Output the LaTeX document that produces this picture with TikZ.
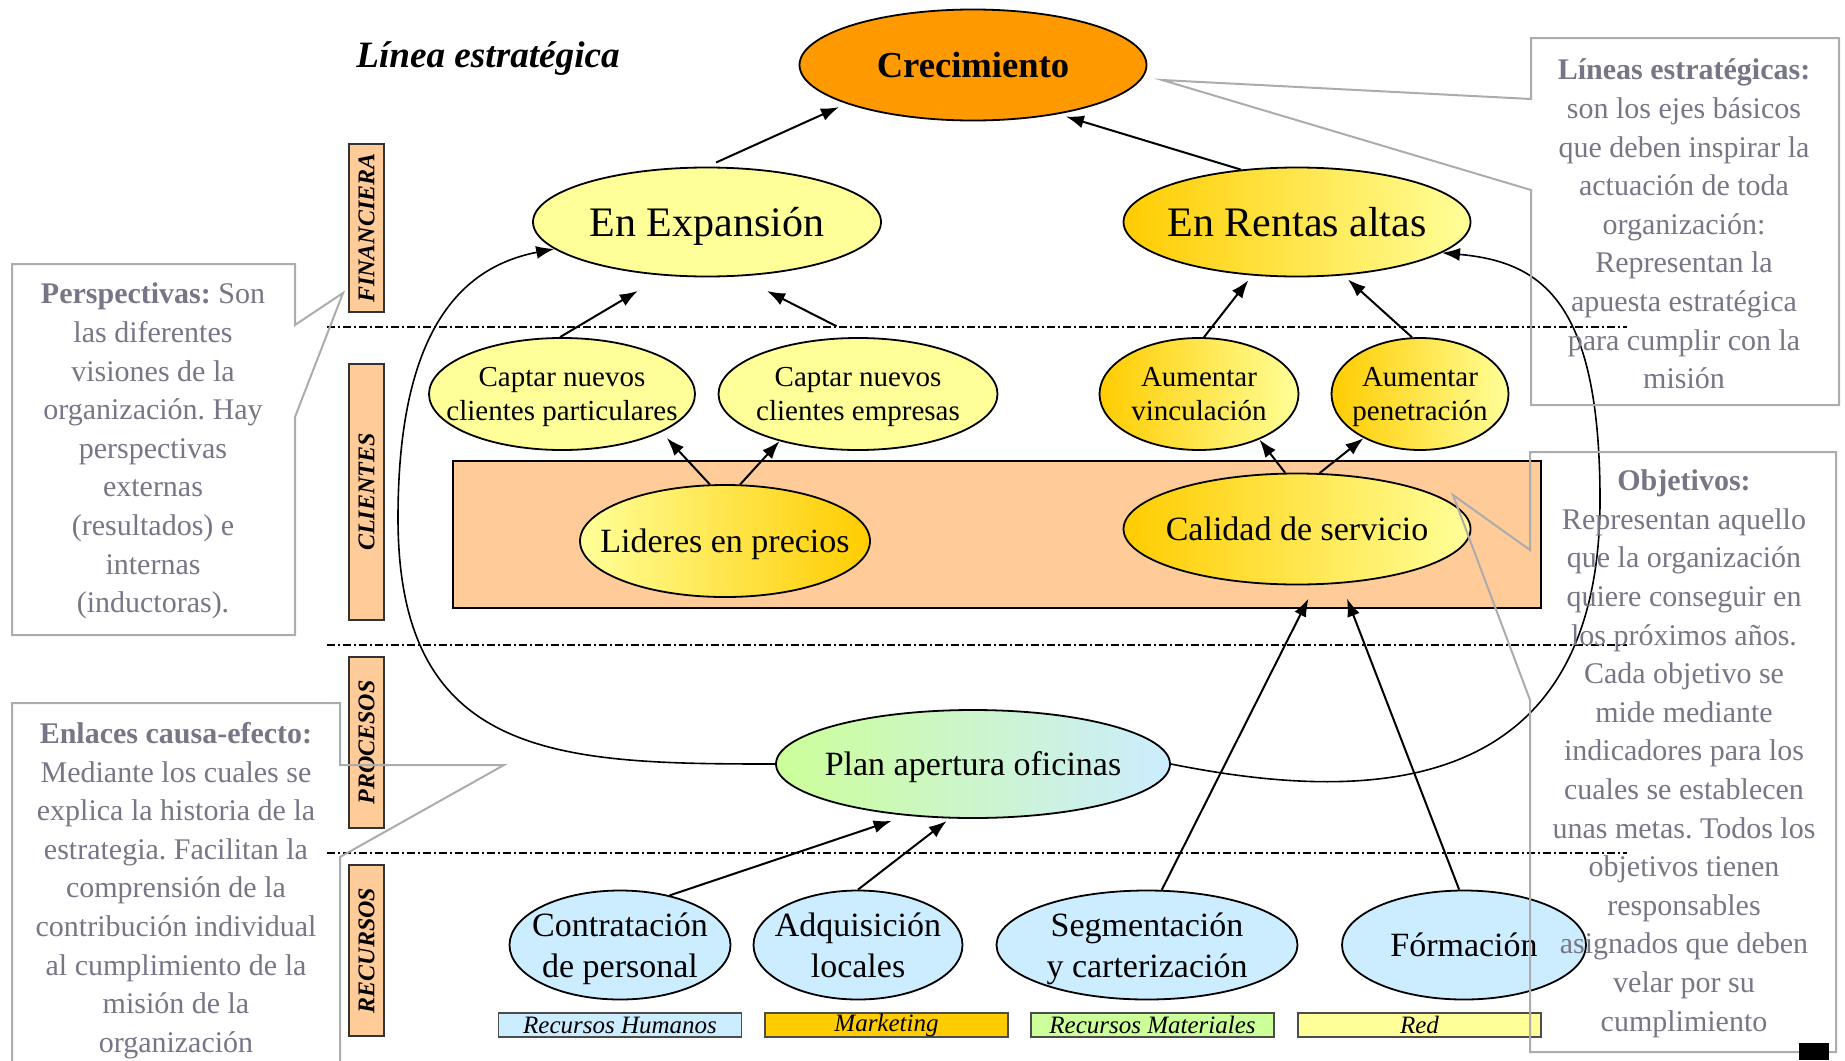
\documentclass[tikz,border=0pt]{standalone}
\usepackage{fontspec}
\setmainfont{Liberation Serif}
\usepackage{tikz}
\usetikzlibrary{shapes.geometric,arrows.meta}
\frenchspacing

\definecolor{naranja}{RGB}{255,153,0}
\definecolor{oro}{RGB}{255,204,0}
\definecolor{amarillo}{RGB}{255,255,153}
\definecolor{melocoton}{RGB}{255,204,153}
\definecolor{celeste}{RGB}{204,236,255}
\definecolor{verdeclaro}{RGB}{204,255,153}
\definecolor{notagris}{RGB}{118,118,134}
\definecolor{bordegris}{RGB}{172,172,172}

\begin{document}
\begin{tikzpicture}[x=0.5pt,y=-0.5pt,
  oval/.style={ellipse,draw,line width=0.9pt,inner xsep=-80pt,inner ysep=-40pt,align=center,text depth=0pt},
  grande/.style={font=\fontsize{21}{25}\selectfont},
  mediana/.style={font=\fontsize{17}{20.5}\selectfont},
  chica/.style={font=\fontsize{14.5}{17}\selectfont},
  flecha/.style={line width=1pt,-{Latex[length=9pt,width=6.5pt]}},
  curva/.style={line width=0.8pt,-{Latex[length=9pt,width=6.5pt]}},
  franja/.style={draw=black!80,line width=0.9pt,fill=melocoton,rotate=90,minimum height=17.5pt,inner sep=0pt,font=\fontsize{12}{12}\selectfont\bfseries\itshape},
  area/.style={draw=black!70,line width=0.8pt,minimum width=121.5pt,minimum height=12pt,inner sep=0pt,font=\fontsize{12.5}{12.5}\selectfont\itshape},
  nota/.style={draw=bordegris,line width=1pt},
  notatxt/.style={align=center,text=notagris,font=\fontsize{15}{19.3}\selectfont},
  separa/.style={line width=0.7pt,dash pattern=on 4pt off 1.5pt on 1pt off 1.5pt}]
\useasboundingbox (0,0) rectangle (1845,1060);
\clip (0,0) rectangle (1845,1060);

% perspectivas
\node[franja,minimum width=84pt] (finan) at (366.5,228) {FINANCIERA};
\node[franja,minimum width=128pt] (clien) at (366.5,492) {CLIENTES};
\node[franja,minimum width=85.5pt] (proc) at (366.5,742.5) {PROCESOS};
\node[franja,minimum width=85.5pt] (recu) at (366.5,950.5) {RECURSOS};
\draw[separa] (327,327) -- (1627,327);
\draw[separa] (327,645) -- (1627,645);
\draw[separa] (327,853) -- (1627,853);

\node[font=\fontsize{18.6}{22}\selectfont\bfseries\itshape] (linea) at (488,59) {Línea estratégica};

% objetivos
\node[oval,fill=naranja,minimum width=173.5pt,minimum height=55.5pt,font=\fontsize{18.3}{22}\selectfont\bfseries] (crec) at (973,65) {Crecimiento};
\node[oval,grande,fill=amarillo,minimum width=174pt,minimum height=54.5pt] (exp) at (707,222) {En Expansión};
\node[oval,grande,left color=oro,right color=amarillo,minimum width=173.5pt,minimum height=54.5pt] (rent) at (1297,222) {En Rentas altas};
\node[oval,chica,fill=amarillo,minimum width=133pt,minimum height=56pt] (cpart) at (562,394) {Captar nuevos\\clientes particulares};
\node[oval,chica,fill=amarillo,minimum width=139.5pt,minimum height=56pt] (cemp) at (858,394) {Captar nuevos\\clientes empresas};
\node[oval,chica,left color=oro,right color=amarillo,minimum width=99.5pt,minimum height=56pt] (vinc) at (1199,394) {Aumentar\\vinculación};
\node[oval,chica,left color=oro,right color=amarillo,minimum width=88.5pt,minimum height=56pt] (pen) at (1420,394) {Aumentar\\penetración};
\node[draw,line width=1pt,fill=melocoton,minimum width=544pt,minimum height=73.5pt,inner sep=0pt] (zona) at (997,534.5) {};
\node[oval,mediana,left color=amarillo,right color=oro,minimum width=145pt,minimum height=56pt] (lid) at (725,541) {Lideres en precios};
\node[oval,mediana,left color=oro,right color=amarillo,minimum width=173.5pt,minimum height=55.5pt] (cal) at (1297,529) {Calidad de servicio};
\node[oval,mediana,left color=verdeclaro,right color=celeste,minimum width=197pt,minimum height=54pt] (plan) at (973,764) {Plan apertura oficinas};
\node[oval,mediana,fill=celeste,minimum width=110.5pt,minimum height=54.5pt] (contr) at (620,945) {Contratación\\de personal};
\node[oval,mediana,fill=celeste,minimum width=104.5pt,minimum height=54.5pt] (adq) at (858,945) {Adquisición\\locales};
\node[oval,mediana,fill=celeste,minimum width=150.5pt,minimum height=54.5pt] (seg) at (1147,945) {Segmentación\\y carterización};
\node[oval,mediana,fill=celeste,minimum width=122pt,minimum height=54.5pt] (form) at (1464,945) {Fórmación};

% areas
\node[area,fill=celeste] (rrhh) at (620,1025) {Recursos Humanos};
\node[area,fill=oro] (mark) at (886.5,1025) {Marketing};
\node[area,fill=verdeclaro] (rmat) at (1152.5,1025) {Recursos Materiales};
\node[area,fill=amarillo] (red) at (1419.5,1025) {Red};

% enlaces causa-efecto
\draw[flecha,shorten <=5pt,shorten >=4pt] (exp.north) -- (crec.197);
\draw[flecha,shorten >=4pt] (rent.137) -- (crec.-30);
\draw[flecha,shorten >=15pt] (cpart.92) -- (exp.231);
\draw[flecha,shorten <=12pt,shorten >=16pt] (cemp.north) -- (exp.-60);
\draw[flecha,shorten >=3pt] (vinc.85) -- (rent.230);
\draw[flecha,shorten >=3pt] (pen.98) -- (rent.-49);
\draw[flecha,shorten >=4pt] (lid.105) -- (cpart.-21);
\draw[flecha] (lid.75) -- (cemp.211);
\draw[flecha] (cal.102) -- (vinc.-37);
\draw[flecha] (cal.68) -- (pen.218);
\draw[flecha,shorten >=8pt] (contr.45) -- (plan.218);
\draw[flecha,shorten >=2pt] (adq.north) -- (plan.247);
\draw[flecha,shorten >=7.5pt] (seg.75) -- (cal.-72);
\draw[flecha,shorten >=8pt] (form.95) -- (cal.-51);
\coordinate (giroizq) at (398,518);
\coordinate (giroder) at (1600,500);
\draw[curva] (plan.west) .. controls +(-216,0) and +(0,242) .. (giroizq) .. controls +(0,-188) and +(-93,18) .. (exp.190);
\draw[curva] (plan.east) .. controls +(180,36) and +(0,310) .. (giroder) .. controls +(0,-200) and +(99,9) .. (rent.-12);

% notas
\draw[nota] (12,264) -- (295,264) -- (295,325) -- (343,293) -- (295,417) -- (295,635) -- (12,635) -- cycle;
\node[notatxt] (persp) at (153,451) {\textbf{Perspectivas:} Son\\las diferentes\\visiones de la\\organización. Hay\\perspectivas\\externas\\(resultados) e\\internas\\(inductoras).};
\draw[nota] (12,1080) -- (12,703) -- (340,703) -- (340,765) -- (504,765) -- (340,857) -- (340,1080);
\node[notatxt] (enlac) at (176,890.5) {\textbf{Enlaces causa-efecto:}\\Mediante los cuales se\\explica la historia de la\\estrategia. Facilitan la\\comprensión de la\\contribución individual\\al cumplimiento de la\\misión de la\\organización};
\draw[nota] (1531,99) -- (1531,38) -- (1839,38) -- (1839,405) -- (1531,405) -- (1531,190) -- (1162,80) -- cycle;
\node[notatxt] (lineas) at (1684,224) {\textbf{Líneas estratégicas:}\\son los ejes básicos\\que deben inspirar la\\actuación de toda\\organización:\\Representan la\\apuesta estratégica\\para cumplir con la\\misión};
\draw[nota] (1530,550) -- (1530,452) -- (1836,452) -- (1836,1052) -- (1530,1052) -- (1530,700) -- (1453,495) -- cycle;
\node[notatxt] (objet) at (1684,753.6) {\textbf{Objetivos:}\\Representan aquello\\que la organización\\quiere conseguir en\\los próximos años.\\Cada objetivo se\\mide mediante\\indicadores para los\\cuales se establecen\\unas metas. Todos los\\objetivos tienen\\responsables\\asignados que deben\\velar por su\\cumplimiento};
\fill (1799,1043) rectangle (1829,1060); %
\end{tikzpicture}
\end{document}
